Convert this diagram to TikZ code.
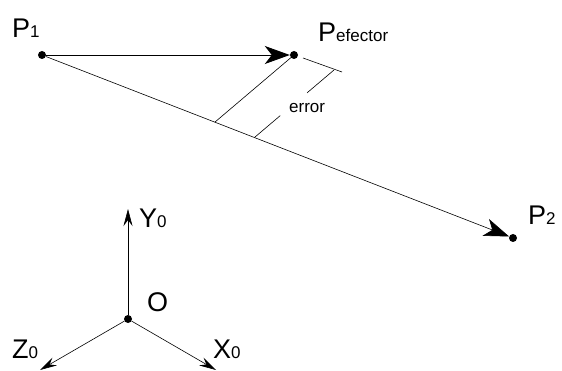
\documentclass[tikz,border=0pt]{standalone}
\usepackage{fontspec}
\setmainfont{Liberation Sans}
\usetikzlibrary{arrows.meta, calc}

\newcommand{\bigtxt}{\fontsize{27}{30}\selectfont}
\newcommand{\smalltxt}{\fontsize{17}{20}\selectfont}

\tikzset{
  dot/.style={circle, fill=black, inner sep=0pt, minimum size=8pt},
  lbl/.style={anchor=base west, inner sep=0pt, font=\bigtxt},
  thinline/.style={line width=0.6pt},
  bigarrow/.style={line width=0.9pt, -{Stealth[length=25pt, width=18pt, inset=7pt]}},
  axisarrow/.style={line width=0.6pt, -{Stealth[length=17pt, width=9pt, inset=6pt]}}
}

\begin{document}
\begin{tikzpicture}[x=1pt, y=-1pt]
\useasboundingbox (0,0) rectangle (562,371);

% ===== POINTS AND TRAJECTORY (Top) =====
\node[dot] (p1) at (42,55) {};
\node[dot] (pe) at (294,55) {};
\node[dot] (p2) at (513,238) {};

\node[lbl] (p1lbl) at (12,38) {P{\smalltxt 1}};
\node[lbl] (pelbl) at (318,42) {P{\smalltxt efector}};
\node[lbl] (p2lbl) at (528,225) {P{\smalltxt 2}};

\draw[bigarrow] (p1) -- (pe);
\draw[bigarrow, line width=0.6pt] (p1) -- (p2);

% Error dimension
\coordinate (foot) at ($(p1.center)!0.367!(p2.center)$);
\draw[thinline] (pe.center) -- (foot);
\draw[thinline] ($(pe.center)+(9,3)$) -- ($(pe.center)+(48,17)$);
\coordinate (d1) at ($(pe.center)+(40,15)$);
\coordinate (d2) at ($(foot)+(40,15)$);
\draw[thinline] (d1) -- ($(d1)!0.34!(d2)$);
\draw[thinline] ($(d1)!0.68!(d2)$) -- (d2);
\node[anchor=base west, inner sep=0pt, font=\smalltxt] (err) at (289,113) {error};

% ===== BASE FRAME (Bottom) =====
\node[dot] (o) at (128,319) {};
\coordinate (ytip) at (128,209);
\coordinate (ztip) at (40,370);
\coordinate (xtip) at (216,370);

\draw[axisarrow] (o) -- (ytip);
\draw[axisarrow] (o) -- (ztip);
\draw[axisarrow] (o) -- (xtip);

\node[lbl] (ylbl) at (139,228) {Y{\smalltxt 0}};
\node[lbl] (olbl) at (147,312) {O};
\node[lbl] (zlbl) at (12,358) {Z{\smalltxt 0}};
\node[lbl] (xlbl) at (213,358) {X{\smalltxt 0}};

\end{tikzpicture}
\end{document}
